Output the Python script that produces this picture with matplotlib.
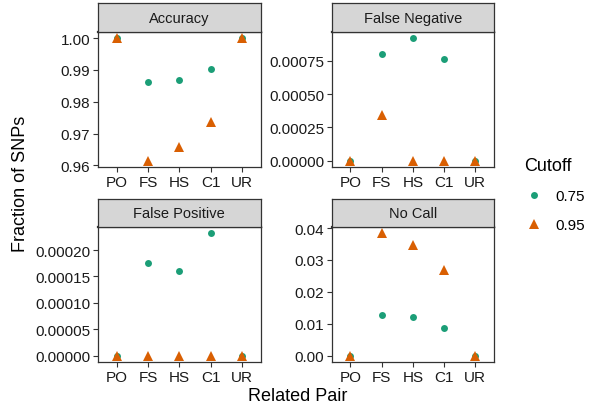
import matplotlib
matplotlib.use("Agg")
import matplotlib.pyplot as plt
from matplotlib.lines import Line2D
from matplotlib.ticker import FormatStrFormatter

plt.rcParams['font.family'] = ['Liberation Sans', 'DejaVu Sans']

pairs = ["PO", "FS", "HS", "C1", "UR"]
cutoffs = ["0.75", "0.95"]

# metric values per related pair, one list per cutoff
accuracy_75 = [1.0, 0.9863, 0.9868, 0.9903, 1.0]
accuracy_95 = [1.0, 0.9614, 0.9657, 0.9737, 1.0]
false_neg_75 = [0.0, 0.000800, 0.000918, 0.000765, 0.0]
false_neg_95 = [0.0, 0.000345, 0.0, 0.0, 0.0]
false_pos_75 = [0.0, 0.0001756, 0.0001606, 0.0002319, 0.0]
false_pos_95 = [0.0, 0.0, 0.0, 0.0, 0.0]
no_call_75 = [0.0, 0.0127, 0.0121, 0.00887, 0.0]
no_call_95 = [0.0, 0.0384, 0.0347, 0.0268, 0.0]

panel_titles = ["Accuracy", "False Negative", "False Positive", "No Call"]
panel_ticks = [
    [0.96, 0.97, 0.98, 0.99, 1.00],
    [0.0, 0.00025, 0.0005, 0.00075],
    [0.0, 0.00005, 0.0001, 0.00015, 0.0002],
    [0.0, 0.01, 0.02, 0.03, 0.04],
]
panel_fmt = ["%.2f", "%.5f", "%.5f", "%.2f"]
panel_data = [
    (accuracy_75, accuracy_95),
    (false_neg_75, false_neg_95),
    (false_pos_75, false_pos_95),
    (no_call_75, no_call_95),
]

green = "#1B9E77"
orange = "#D95F02"
edge = "#333333"

W, H = 590, 410
fig = plt.figure(figsize=(W / 100, H / 100), dpi=100)

# panel boxes in pixels: (left, right, strip_top, panel_top, panel_bottom)
boxes = [
    (98, 260.7, 4, 33, 168),
    (331.7, 494, 4, 33, 168),
    (98, 260.7, 199.5, 228, 363),
    (331.7, 494, 199.5, 228, 363),
]

for i, (l, r, st, pt, pb) in enumerate(boxes):
    ax = fig.add_axes([l / W, 1 - pb / H, (r - l) / W, (pb - pt) / H])
    v75, v95 = panel_data[i]
    x = range(len(pairs))
    ax.plot(x, v75, linestyle="none", marker="o", markersize=5,
            color=green, markeredgewidth=0)
    ax.plot(x, v95, linestyle="none", marker="^", markersize=6.5,
            color=orange, markeredgewidth=0)
    ax.set_xlim(-0.6, len(pairs) - 0.4)
    ax.margins(y=0.05)
    ax.set_xticks(list(x))
    ax.set_xticklabels(pairs)
    ax.set_yticks(panel_ticks[i])
    ax.yaxis.set_major_formatter(FormatStrFormatter(panel_fmt[i]))
    ax.tick_params(length=3.5, width=0.8, color=edge, labelsize=11,
                   labelcolor="#1a1a1a", pad=2)
    for s in ax.spines.values():
        s.set_color(edge)
        s.set_linewidth(0.9)
    ax.spines["top"].set_linewidth(1.6)

    # facet strip
    sax = fig.add_axes([l / W, 1 - pt / H, (r - l) / W, (pt - st) / H])
    sax.set_facecolor("#D6D6D6")
    sax.set_xticks([])
    sax.set_yticks([])
    for s in sax.spines.values():
        s.set_color(edge)
        s.set_linewidth(0.9)
    sax.text(0.5, 0.5, panel_titles[i], ha="center", va="center",
             fontsize=10.5, color="#1a1a1a", transform=sax.transAxes)

fig.text(21 / W, 1 - 184 / H, "Fraction of SNPs", rotation=90,
         ha="center", va="center", fontsize=13)
fig.text(298 / W, 1 - 397 / H, "Related Pair", ha="center", va="center",
         fontsize=13)

handles = [
    Line2D([], [], linestyle="none", marker="o", markersize=5,
           color=green, markeredgewidth=0),
    Line2D([], [], linestyle="none", marker="^", markersize=6.5,
           color=orange, markeredgewidth=0),
]
leg = fig.legend(handles, cutoffs, title="Cutoff", frameon=False,
                 loc="upper left", bbox_to_anchor=(510 / W, 1 - 144 / H),
                 fontsize=11, title_fontsize=13, labelspacing=1.0,
                 handletextpad=0.8, handlelength=1.3)
leg._legend_box.align = "left"

fig.savefig("out.png", dpi=100)
